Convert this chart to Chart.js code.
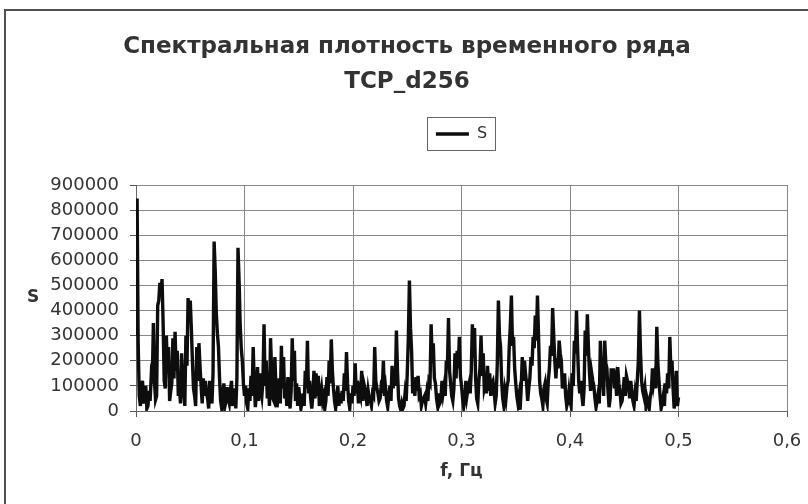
<!DOCTYPE html>
<html lang="ru">
<head>
<meta charset="utf-8">
<title>Спектральная плотность временного ряда TCP_d256</title>
<script src="https://cdn.jsdelivr.net/npm/chart.js@4.4.1/dist/chart.umd.min.js"></script>
<style>
  html, body { margin: 0; padding: 0; background: #fff; }
  #wrap { width: 808px; height: 504px; }
</style>
</head>
<body>
<div id="wrap"><canvas id="spectrum" width="808" height="504"></canvas></div>
<script>
const chartTitle = ['Спектральная плотность временного ряда', 'TCP_d256'];
const seriesName = 'S';
const xAxisTitle = 'f, Гц';
const yAxisTitle = 'S';
const freqStep = 0.001; // spacing of the spectrum points, Гц

// S(f), one value per freqStep from 0 to 0.5 (10 per row = 0.01 Гц)
const sValues = [
  300000, 846000, 270000, 60000, 20000, 90000, 120000, 30000, 60000, 100000,
  10000, 20000, 80000, 40000, 135000, 110000, 350000, 120000, 45000, 60000,
  420000, 440000, 510000, 470000, 525000, 350000, 120000, 90000, 300000, 150000,
  255000, 40000, 80000, 110000, 290000, 130000, 315000, 160000, 240000, 60000,
  100000, 30000, 230000, 120000, 70000, 20000, 300000, 180000, 450000, 380000,
  440000, 330000, 200000, 90000, 60000, 20000, 255000, 120000, 270000, 180000,
  100000, 30000, 130000, 60000, 120000, 70000, 50000, 10000, 120000, 70000,
  30000, 150000, 675000, 560000, 390000, 310000, 255000, 130000, 40000, 10000,
  70000, 110000, 20000, 40000, 95000, 50000, 30000, 80000, 120000, 20000,
  60000, 90000, 10000, 130000, 650000, 520000, 345000, 250000, 200000, 110000,
  60000, 100000, 30000, 10000, 90000, 40000, 140000, 60000, 255000, 110000,
  15000, 70000, 175000, 40000, 150000, 90000, 60000, 120000, 345000, 100000,
  200000, 50000, 120000, 20000, 290000, 160000, 50000, 40000, 215000, 90000,
  15000, 60000, 130000, 30000, 260000, 90000, 215000, 50000, 100000, 20000,
  135000, 60000, 10000, 80000, 290000, 120000, 240000, 40000, 110000, 20000,
  95000, 50000, 10000, 30000, 70000, 20000, 160000, 90000, 280000, 70000,
  120000, 50000, 10000, 60000, 160000, 50000, 150000, 60000, 140000, 20000,
  60000, 90000, 40000, 60000, 10000, 40000, 135000, 60000, 200000, 110000,
  285000, 160000, 90000, 40000, 10000, 50000, 100000, 20000, 70000, 30000,
  80000, 40000, 150000, 80000, 235000, 110000, 40000, 10000, 70000, 30000,
  100000, 60000, 190000, 70000, 120000, 30000, 80000, 60000, 160000, 40000,
  110000, 90000, 60000, 20000, 80000, 50000, 40000, 20000, 70000, 60000,
  255000, 120000, 90000, 70000, 40000, 50000, 100000, 90000, 200000, 60000,
  90000, 40000, 15000, 60000, 100000, 40000, 180000, 90000, 140000, 100000,
  320000, 160000, 50000, 20000, 5000, 30000, 10000, 20000, 70000, 40000,
  150000, 290000, 520000, 330000, 240000, 70000, 120000, 60000, 135000, 80000,
  140000, 60000, 70000, 20000, 40000, 50000, 60000, 30000, 70000, 40000,
  120000, 110000, 345000, 200000, 270000, 130000, 110000, 50000, 20000, 70000,
  30000, 40000, 120000, 70000, 100000, 60000, 200000, 170000, 370000, 160000,
  110000, 60000, 40000, 90000, 230000, 130000, 240000, 170000, 295000, 140000,
  100000, 50000, 15000, 40000, 120000, 60000, 90000, 110000, 70000, 160000,
  345000, 210000, 330000, 130000, 50000, 30000, 120000, 170000, 300000, 140000,
  230000, 90000, 110000, 70000, 180000, 80000, 150000, 60000, 110000, 120000,
  80000, 30000, 60000, 190000, 440000, 300000, 255000, 120000, 50000, 20000,
  80000, 50000, 100000, 120000, 255000, 340000, 460000, 260000, 295000, 170000,
  110000, 60000, 30000, 60000, 5000, 90000, 215000, 120000, 200000, 150000,
  110000, 40000, 90000, 130000, 215000, 180000, 295000, 250000, 380000, 280000,
  460000, 300000, 120000, 70000, 50000, 20000, 90000, 110000, 50000, 30000,
  120000, 170000, 260000, 220000, 410000, 300000, 200000, 130000, 210000, 170000,
  280000, 230000, 200000, 90000, 120000, 150000, 60000, 20000, 40000, 80000,
  40000, 20000, 150000, 100000, 280000, 230000, 400000, 250000, 120000, 70000,
  120000, 60000, 20000, 90000, 320000, 220000, 385000, 250000, 150000, 80000,
  150000, 120000, 100000, 50000, 15000, 40000, 70000, 30000, 280000, 150000,
  120000, 60000, 280000, 190000, 170000, 80000, 15000, 50000, 170000, 120000,
  170000, 90000, 120000, 60000, 175000, 110000, 80000, 30000, 40000, 80000,
  135000, 60000, 140000, 120000, 100000, 50000, 120000, 80000, 40000, 20000,
  70000, 40000, 120000, 200000, 400000, 230000, 120000, 80000, 60000, 90000,
  20000, 50000, 30000, 10000, 60000, 80000, 170000, 110000, 140000, 90000,
  335000, 190000, 120000, 60000, 10000, 30000, 60000, 20000, 110000, 70000,
  150000, 90000, 295000, 160000, 200000, 90000, 10000, 60000, 160000, 20000,
  55000
];

const xTickLabels = ['0', '0,1', '0,2', '0,3', '0,4', '0,5', '0,6'];
const yTickLabels = ['0', '100000', '200000', '300000', '400000', '500000', '600000', '700000', '800000', '900000'];

const FONT = 'DejaVu Sans';
const TEXT = '#333';

const points = sValues.map((v, i) => ({ x: i * freqStep, y: v }));

// outer frame of the chart sheet (only its left and top edges are visible)
const framePlugin = {
  id: 'frame',
  beforeDraw(chart) {
    const ctx = chart.ctx;
    ctx.save();
    ctx.fillStyle = '#fff';
    ctx.fillRect(0, 0, chart.width, chart.height);
    ctx.strokeStyle = '#505050';
    ctx.lineWidth = 2;
    ctx.beginPath();
    ctx.moveTo(5, chart.height);
    ctx.lineTo(5, 10);
    ctx.lineTo(chart.width, 10);
    ctx.stroke();
    ctx.restore();
  },
};

// border round the legend and the upright y axis title
const extrasPlugin = {
  id: 'extras',
  afterDraw(chart) {
    const ctx = chart.ctx;
    const hb = chart.legend.legendHitBoxes[0];
    ctx.save();
    if (hb) {
      ctx.strokeStyle = '#666';
      ctx.lineWidth = 1;
      const cy = hb.top + hb.height / 2;
      ctx.strokeRect(Math.round(hb.left - 9) + 0.5, Math.round(cy - 17) + 0.5, 68, 33);
    }
    const area = chart.chartArea;
    ctx.fillStyle = TEXT;
    ctx.font = 'bold 17px "' + FONT + '"';
    ctx.textAlign = 'center';
    ctx.textBaseline = 'middle';
    ctx.fillText(yAxisTitle, 33, (area.top + area.bottom) / 2);
    ctx.restore();
  },
};

new Chart(document.getElementById('spectrum'), {
  type: 'line',
  data: {
    datasets: [{
      label: seriesName,
      data: points,
      borderColor: '#0d0d0d',
      backgroundColor: '#0d0d0d',
      borderWidth: 3.4,
      pointRadius: 0,
      tension: 0,
      fill: false,
    }],
  },
  options: {
    responsive: false,
    animation: false,
    layout: { padding: { left: 27, right: 21, top: 0, bottom: 0 } },
    plugins: {
      title: {
        display: true,
        text: chartTitle,
        color: TEXT,
        font: { family: FONT, size: 23, weight: 'bold', lineHeight: 35 / 23 },
        padding: { top: 30, bottom: 0 },
      },
      // empty spacer between the legend and the plot
      subtitle: {
        display: true,
        text: '',
        weight: 500,
        font: { size: 10, lineHeight: 1 },
        padding: { top: 23, bottom: 0 },
      },
      legend: {
        position: 'top',
        fullSize: false,
        labels: {
          usePointStyle: true,
          pointStyle: 'line',
          pointStyleWidth: 33,
          padding: 26,
          color: TEXT,
          font: { family: FONT, size: 16 },
        },
      },
      tooltip: { enabled: false },
    },
    scales: {
      x: {
        type: 'linear',
        min: 0,
        max: 0.6,
        afterFit(axis) { axis.height = 93; },
        ticks: {
          stepSize: 0.1,
          color: TEXT,
          padding: 3,
          maxRotation: 0,
          font: { family: FONT, size: 18, lineHeight: 2.4 },
          callback: v => xTickLabels[Math.round(v * 10)],
        },
        grid: { color: '#888', tickColor: '#555', tickLength: 6 },
        border: { color: '#666' },
        title: {
          display: true,
          text: xAxisTitle,
          color: TEXT,
          font: { family: FONT, size: 17, weight: 'bold' },
          padding: { top: 0, bottom: 22 },
        },
      },
      y: {
        min: 0,
        max: 900000,
        afterFit(axis) { axis.width = 109; },
        ticks: {
          stepSize: 100000,
          color: TEXT,
          padding: 11,
          font: { family: FONT, size: 18 },
          callback: v => yTickLabels[Math.round(v / 100000)],
        },
        grid: { color: '#888', tickColor: '#555', tickLength: 6 },
        border: { color: '#666' },
      },
    },
  },
  plugins: [framePlugin, extrasPlugin],
});
</script>
</body>
</html>
